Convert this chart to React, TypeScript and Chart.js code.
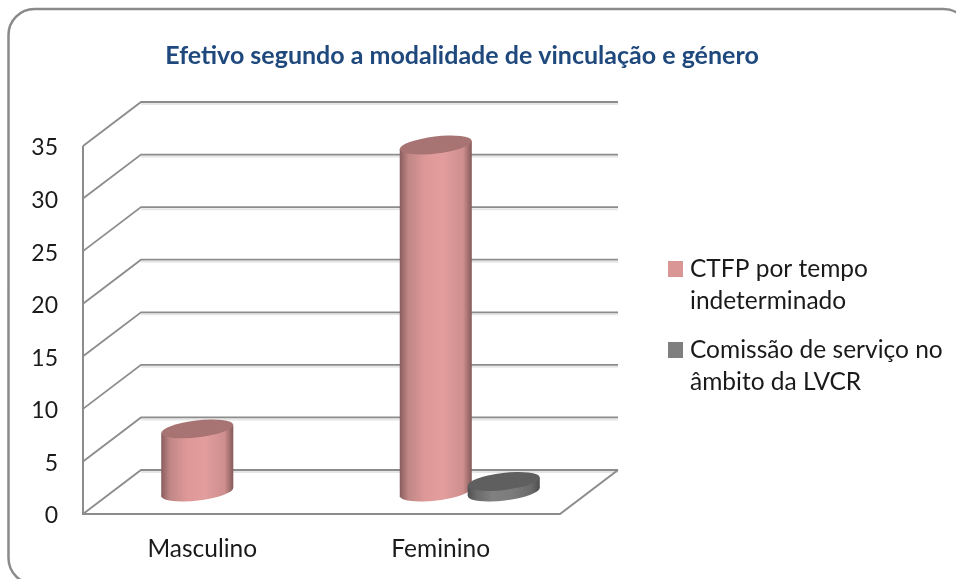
import React, { useEffect, useRef } from "react";
import { Chart, registerables } from "chart.js";

Chart.register(...registerables);

const categories = ["Masculino", "Feminino"];
const ctfpValues = [6, 33];
const comissaoValues = [0, 1];
const seriesNames = ["CTFP por tempo indeterminado", "Comissão de serviço no âmbito da LVCR"];
const legendLines = [["CTFP por tempo", "indeterminado"], ["Comissão de serviço no", "âmbito da LVCR"]];
const chartTitle = "Efetivo segundo a modalidade de vinculação e género";
const yTickMax = 35;
const yTickStep = 5;

const FONT = "Lato, Carlito, Calibri, sans-serif";
const DEPTH_X = 58;
const DEPTH_Y = 44;
const AXIS_COLOR = "#8C8C8C";

const PALETTE = [
  { swatch: "#D99694", top: "#A87473", stops: ["#8A5C5C", "#C08786", "#DD9897", "#E39D9D", "#CE8F8E", "#855A5A"] },
  { swatch: "#7F7F7F", top: "#5F5F5F", stops: ["#505050", "#6B6B6B", "#808080", "#7C7C7C", "#6A6A6A", "#4E4E4E"] },
];

function drawCylinder(ctx: CanvasRenderingContext2D, cx: number, topY: number, botY: number, r: number, p: typeof PALETTE[0]) {
  const a = r * 1.005;
  const b = r * 0.235;
  const tilt = (-6.8 * Math.PI) / 180;
  const slope = r * 0.11;
  const g = ctx.createLinearGradient(cx - r, 0, cx + r, 0);
  const pos = [0, 0.12, 0.35, 0.6, 0.88, 1];
  p.stops.forEach((c, i) => g.addColorStop(pos[i], c));
  ctx.fillStyle = g;
  ctx.beginPath();
  ctx.ellipse(cx, botY, a, b, tilt, 0, Math.PI * 2);
  ctx.fill();
  ctx.beginPath();
  ctx.moveTo(cx - r, topY + slope);
  ctx.lineTo(cx + r, topY - slope);
  ctx.lineTo(cx + r, botY - slope);
  ctx.lineTo(cx - r, botY + slope);
  ctx.closePath();
  ctx.fill();
  ctx.fillStyle = p.top;
  ctx.beginPath();
  ctx.ellipse(cx, topY, a, b, tilt, 0, Math.PI * 2);
  ctx.fill();
}

const scenePlugin = {
  id: "scene3d",
  beforeDraw(chart: any) {
    const ctx: CanvasRenderingContext2D = chart.ctx;
    ctx.save();
    ctx.fillStyle = "#FFFFFF";
    ctx.fillRect(0, 0, chart.width, chart.height);
    ctx.strokeStyle = "#8A8A8A";
    ctx.lineWidth = 2.5;
    ctx.beginPath();
    ctx.roundRect(8.5, 9, 961, 575, 26);
    ctx.stroke();
    ctx.restore();
  },
  beforeDatasetsDraw(chart: any) {
    const ctx: CanvasRenderingContext2D = chart.ctx;
    const { left, right, bottom, top } = chart.chartArea;
    const yScale = chart.scales.y;
    ctx.save();
    yScale.ticks.forEach((t: any) => {
      const y = yScale.getPixelForValue(t.value);
      ctx.strokeStyle = "#E6E6E6";
      ctx.lineWidth = 2;
      ctx.beginPath();
      ctx.moveTo(left + DEPTH_X, y - DEPTH_Y + 2);
      ctx.lineTo(right + DEPTH_X, y - DEPTH_Y + 2);
      ctx.stroke();
      ctx.strokeStyle = AXIS_COLOR;
      ctx.lineWidth = 1.8;
      ctx.beginPath();
      ctx.moveTo(left, y);
      ctx.lineTo(left + DEPTH_X, y - DEPTH_Y);
      ctx.lineTo(right + DEPTH_X, y - DEPTH_Y);
      ctx.stroke();
    });
    ctx.strokeStyle = AXIS_COLOR;
    ctx.lineWidth = 2;
    ctx.beginPath();
    ctx.moveTo(left, top);
    ctx.lineTo(left, bottom);
    ctx.lineTo(right, bottom);
    ctx.lineTo(right + DEPTH_X, bottom - DEPTH_Y);
    ctx.stroke();

    chart.data.datasets.forEach((ds: any, di: number) => {
      chart.getDatasetMeta(di).data.forEach((bar: any, i: number) => {
        if (!ds.data[i]) return;
        drawCylinder(ctx, bar.x + DEPTH_X / 2, bar.y - DEPTH_Y / 2, bar.base - DEPTH_Y / 2, bar.width / 2, PALETTE[di]);
      });
    });
    ctx.restore();
    return false;
  },
  afterDraw(chart: any) {
    const ctx: CanvasRenderingContext2D = chart.ctx;
    ctx.save();
    ctx.textBaseline = "middle";
    ctx.textAlign = "center";
    ctx.fillStyle = "#1F497D";
    ctx.font = `bold 25px ${FONT}`;
    ctx.fillText(chartTitle, 462, 56);

    const swatchY = [261, 342];
    ctx.textAlign = "left";
    ctx.font = `24.5px ${FONT}`;
    legendLines.forEach((lines, i) => {
      ctx.fillStyle = PALETTE[i].swatch;
      ctx.fillRect(668, swatchY[i], 15, 16);
      ctx.fillStyle = "#1A1A1A";
      lines.forEach((line, j) => ctx.fillText(line, 690, swatchY[i] + 8 + j * 32.5));
    });
    ctx.restore();
  },
};

export default function App() {
  const ref = useRef<HTMLCanvasElement>(null);
  useEffect(() => {
    document.body.style.margin = "0";
    document.body.style.overflow = "hidden";
    const chart = new Chart(ref.current!, {
      type: "bar",
      data: {
        labels: categories,
        datasets: [
          { label: seriesNames[0], data: ctfpValues, backgroundColor: PALETTE[0].swatch },
          { label: seriesNames[1], data: comissaoValues, backgroundColor: PALETTE[1].swatch },
        ],
      },
      options: {
        responsive: false,
        animation: false,
        categoryPercentage: 0.57,
        barPercentage: 1.06,
        layout: { padding: { top: 146, right: 396, left: 0, bottom: 0 } },
        plugins: { legend: { display: false }, title: { display: false }, tooltip: { enabled: false } },
        scales: {
          x: {
            grid: { display: false, drawTicks: false },
            border: { display: false },
            ticks: { font: { family: FONT, size: 24.5 }, color: "#1A1A1A", padding: 20, maxRotation: 0 },
            afterFit: (s: any) => { s.height = 65; },
          },
          y: {
            min: 0,
            max: yTickMax,
            grid: { display: false, drawTicks: false },
            border: { display: false },
            ticks: { stepSize: yTickStep, font: { family: FONT, size: 23 }, color: "#1A1A1A", padding: 25, labelOffset: 2 },
            afterFit: (s: any) => { s.width = 83; },
          },
        },
      } as any,
      plugins: [scenePlugin as any],
    });
    return () => chart.destroy();
  }, []);
  return <canvas ref={ref} width={956} height={579} style={{ display: "block" }} />;
}
